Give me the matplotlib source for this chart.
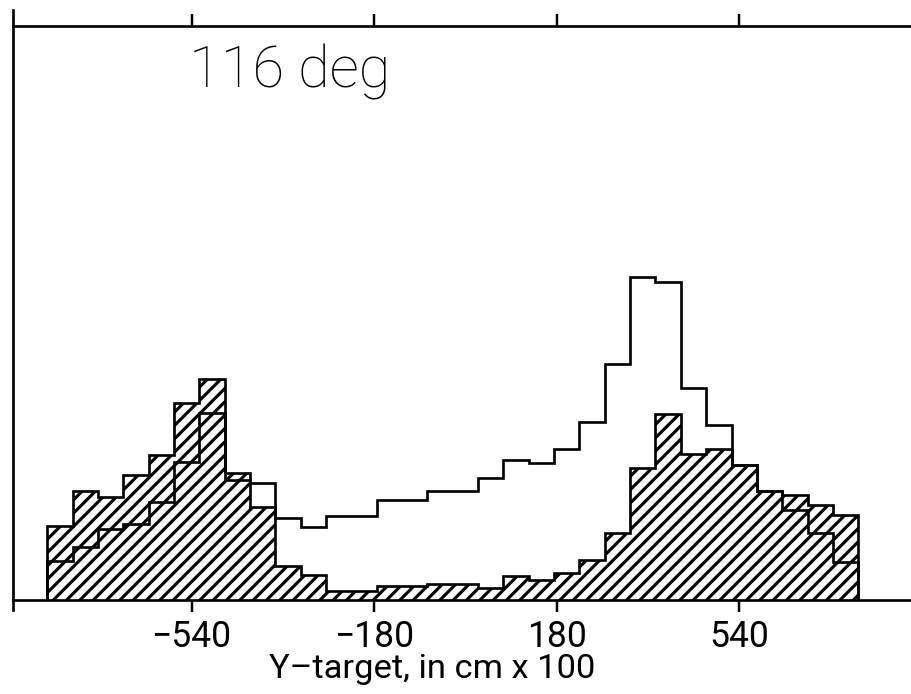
import numpy as np
import matplotlib
matplotlib.use("Agg")
import matplotlib.pyplot as plt

# bin scheme (Y-target, cm x 100)
first_edge = -825
bin_width = 50
n_bins = 32
edges = first_edge + bin_width * np.arange(n_bins + 1)

# hatched histogram
hatched_counts = [74, 109, 103, 125, 145, 197, 221, 127, 93, 34, 25, 9, 9, 14, 14, 16,
                  16, 12, 24, 20, 27, 40, 67, 132, 186, 146, 151, 135, 109, 105, 95, 85]
# open histogram
open_counts = [39, 53, 71, 76, 98, 138, 187, 120, 117, 82, 73, 84, 84, 100, 100, 109,
               109, 122, 140, 137, 151, 178, 236, 323, 318, 212, 175, 135, 109, 90, 67, 38]

tick_pos = [-540, -180, 180, 540]
tick_labels = ["\u2212540", "\u2212180", "180", "540"]
panel_label = "116 deg"
x_label = "Y\u2013target, in cm x 100"

plt.rcParams['font.family'] = ['Roboto', 'DejaVu Sans']
plt.rcParams['hatch.linewidth'] = 1.4

DPI = 160
fig = plt.figure(figsize=(911 / DPI, 694 / DPI), dpi=DPI)
fig.patch.set_facecolor('white')

# axes: left spine at x~13px, right edge runs off the figure
ax = fig.add_axes([12.7 / 911, 84 / 694, 908.9 / 911, 600 / 694])
ax.set_xlim(-893, 900)
ax.set_ylim(-10, 590)

ax.stairs(hatched_counts, edges, baseline=0, fill=True, facecolor='white',
          edgecolor='black', hatch='////', linewidth=1.2, zorder=2)
ax.stairs(open_counts, edges, baseline=0, fill=False, edgecolor='black',
          linewidth=1.2, zorder=3)

# axis lines
ax.spines['right'].set_visible(False)
ax.spines['bottom'].set_position(('data', 0))
ax.spines['top'].set_position(('data', 574))
for s in ['left', 'bottom', 'top']:
    ax.spines[s].set_linewidth(1.2)

ax.set_xticks(tick_pos)
ax.set_xticklabels(tick_labels, fontsize=16, fontweight='normal')
ax.tick_params(axis='x', which='both', direction='out', length=5.5, width=1.1,
               top=True, labeltop=False, bottom=True, pad=3)
ax.set_yticks([])

ax.set_xlabel(x_label, fontsize=15.5, fontweight='normal', labelpad=0)
ax.xaxis.set_label_coords(0.461, -0.072)

ax.text(-545, 512, panel_label, fontsize=26, fontweight='light',
        ha='left', va='baseline')

fig.savefig("out.png", dpi=DPI, facecolor='white')
